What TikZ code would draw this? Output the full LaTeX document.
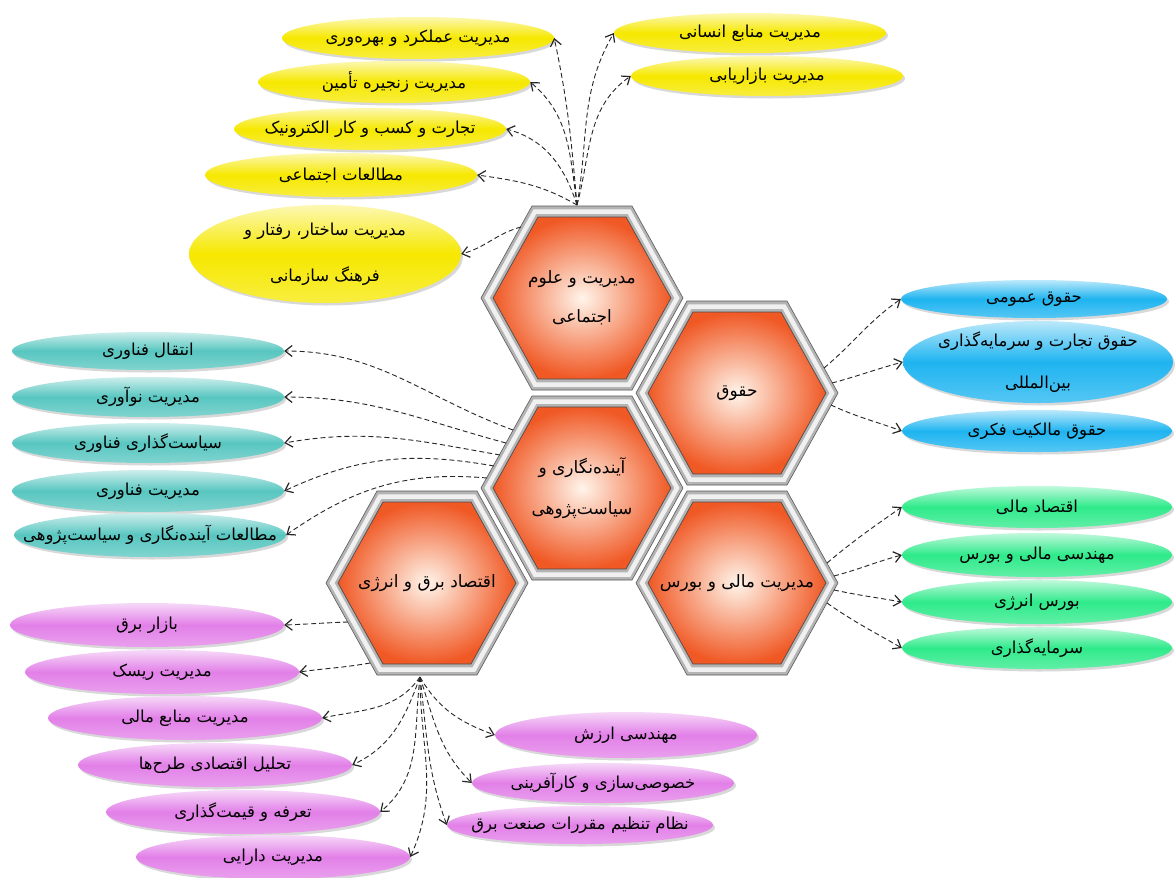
\documentclass[tikz,border=0pt]{standalone}
\usepackage{fontspec}
\usetikzlibrary{shapes.geometric,shadows,arrows.meta,calc}
\TeXXeTstate=1
\newfontfamily\farsi[Script=Arabic]{DejaVu Sans}
\newcommand{\fatxt}[1]{\beginR #1\endR}

\definecolor{leafyellow}{RGB}{246,232,0}
\definecolor{leafteal}{RGB}{88,198,192}
\definecolor{leafblue}{RGB}{30,180,240}
\definecolor{leafgreen}{RGB}{46,234,138}
\definecolor{leafpink}{RGB}{226,128,232}
\definecolor{hexorange}{RGB}{240,88,36}
\definecolor{framegray}{RGB}{180,180,180}

\tikzset{
    cell/.pic={
        \fill[framegray, draw=gray!70!black, line width=.6pt] (-101,0) -- (-50,92) -- (50,92) -- (101,0) -- (50,-92) -- (-50,-92) -- cycle;
        \draw[white!94!gray, line width=4.5pt, opacity=.9] (-95,0) -- (-47,86.5) -- (47,86.5) -- (95,0) -- (47,-86.5) -- (-47,-86.5) -- cycle;
        \shade[inner color=orange!8!white, outer color=hexorange, draw=gray!60!black, line width=.7pt] (-89,0) -- (-44,81) -- (44,81) -- (89,0) -- (44,-81) -- (-44,-81) -- cycle;
    },
    celltext/.style={align=center, font=\farsi\fontsize{17}{20}\selectfont},
    leaf/.style={ellipse, inner xsep=-45pt, inner ysep=-10pt, minimum width=272pt, minimum height=42pt, align=center,
        font=\farsi\fontsize{16.5}{20}\selectfont,
        drop shadow={opacity=.3, shadow xshift=2pt, shadow yshift=-2.5pt}},
    yellowleaf/.style={leaf, top color=leafyellow!30!white, bottom color=leafyellow!75!white, middle color=leafyellow},
    tealleaf/.style={leaf, top color=leafteal!30!white, bottom color=leafteal!75!white, middle color=leafteal},
    blueleaf/.style={leaf, top color=leafblue!30!white, bottom color=leafblue!75!white, middle color=leafblue},
    greenleaf/.style={leaf, top color=leafgreen!30!white, bottom color=leafgreen!75!white, middle color=leafgreen},
    pinkleaf/.style={leaf, top color=leafpink!30!white, bottom color=leafpink!75!white, middle color=leafpink},
    link/.style={draw=black!85, line width=.9pt, dash pattern=on 5pt off 3pt, -{Straight Barb[length=7pt,width=11pt,line width=1.2pt]}}
}

\begin{document}
\begin{tikzpicture}[x=1pt, y=1pt]
    \useasboundingbox (0,0) rectangle (1176,-878);
    \fill[white] (0,0) rectangle (1176,-878);

    \pic at (582,-298) {cell};
    \pic at (737,-393) {cell};
    \pic at (582,-488) {cell};
    \pic at (427,-583) {cell};
    \pic at (737,-583) {cell};

    \node[celltext] (mgmt) at (582,-298) {\fatxt{مدیریت و علوم}\\[19pt]\fatxt{اجتماعی}};
    \node[celltext] (law) at (737,-393) {\fatxt{حقوق}};
    \node[celltext] (foresight) at (582,-488) {\fatxt{آینده^^^^200cنگاری و}\\[21pt]\fatxt{سیاست^^^^200cپژوهی}};
    \node[celltext] (energy) at (427,-583) {\fatxt{اقتصاد برق و انرژی}};
    \node[celltext] (finance) at (737,-583) {\fatxt{مدیریت مالی و بورس}};

    \node[yellowleaf] (perf) at (418,-38) {\fatxt{مدیریت عملکرد و بهره^^^^200cوری}};
    \node[yellowleaf] (supply) at (394,-82) {\fatxt{مدیریت زنجیره تأمین}};
    \node[yellowleaf] (ecom) at (370,-129) {\fatxt{تجارت و کسب و کار الکترونیک}};
    \node[yellowleaf, minimum height=44pt] (social) at (341,-175) {\fatxt{مطالعات اجتماعی}};
    \node[yellowleaf, minimum height=98pt] (orgbeh) at (325,-254) {\fatxt{مدیریت ساختار، رفتار و}\\[26pt]\fatxt{فرهنگ سازمانی}};
    \node[yellowleaf, minimum height=40pt] (hrm) at (750,-33) {\fatxt{مدیریت منابع انسانی}};
    \node[yellowleaf, minimum height=40pt] (mkt) at (767,-76) {\fatxt{مدیریت بازاریابی}};

    \node[tealleaf, minimum height=38pt] (transfer) at (148,-351) {\fatxt{انتقال فناوری}};
    \node[tealleaf, minimum height=40pt] (innov) at (148,-397) {\fatxt{مدیریت نوآوری}};
    \node[tealleaf, minimum height=40pt] (techpol) at (148,-443) {\fatxt{سیاست^^^^200cگذاری فناوری}};
    \node[tealleaf] (techmgmt) at (148,-491) {\fatxt{مدیریت فناوری}};
    \node[tealleaf, minimum height=44pt] (futures) at (150,-535) {\fatxt{مطالعات آینده^^^^200cنگاری و سیاست^^^^200cپژوهی}};

    \node[blueleaf, minimum width=266pt, minimum height=38pt] (publaw) at (1034,-299) {\fatxt{حقوق عمومی}};
    \node[blueleaf, minimum width=270pt, minimum height=82pt] (tradelaw) at (1038,-362) {\fatxt{حقوق تجارت و سرمایه^^^^200cگذاری}\\[22pt]\fatxt{بین^^^^200cالمللی}};
    \node[blueleaf, minimum width=270pt] (iplaw) at (1037,-431) {\fatxt{حقوق مالکیت فکری}};

    \node[greenleaf, minimum width=270pt] (fecon) at (1037,-507) {\fatxt{اقتصاد مالی}};
    \node[greenleaf, minimum width=270pt, minimum height=44pt] (feng) at (1037,-555) {\fatxt{مهندسی مالی و بورس}};
    \node[greenleaf, minimum width=270pt, minimum height=44pt] (enex) at (1037,-602) {\fatxt{بورس انرژی}};
    \node[greenleaf, minimum width=270pt] (invest) at (1037,-648) {\fatxt{سرمایه^^^^200cگذاری}};

    \node[pinkleaf, minimum width=274pt, minimum height=44pt] (elmkt) at (147,-625) {\fatxt{بازار برق}};
    \node[pinkleaf, minimum width=274pt, minimum height=44pt] (risk) at (162,-672) {\fatxt{مدیریت ریسک}};
    \node[pinkleaf, minimum width=274pt, minimum height=44pt] (fundmgmt) at (185,-718) {\fatxt{مدیریت منابع مالی}};
    \node[pinkleaf, minimum width=274pt, minimum height=44pt] (projecon) at (215,-765) {\fatxt{تحلیل اقتصادی طرح^^^^200cها}};
    \node[pinkleaf, minimum width=274pt, minimum height=44pt] (tariff) at (243,-812) {\fatxt{تعرفه و قیمت^^^^200cگذاری}};
    \node[pinkleaf, minimum width=274pt, minimum height=44pt] (asset) at (273,-857) {\fatxt{مدیریت دارایی}};
    \node[pinkleaf, minimum width=262pt, minimum height=46pt] (valeng) at (626,-735) {\fatxt{مهندسی ارزش}};
    \node[pinkleaf, minimum width=262pt, minimum height=40pt] (privat) at (603,-783) {\fatxt{خصوصی^^^^200cسازی و کارآفرینی}};
    \node[pinkleaf, minimum width=266pt, minimum height=38pt] (regul) at (580,-825) {\fatxt{نظام تنظیم مقررات صنعت برق}};

    \coordinate (mgmtfan) at ($(mgmt)+(-5,93)$);
    \draw[link] (mgmtfan) to[out=95,in=-78] (perf.east);
    \draw[link] (mgmtfan) to[out=98,in=-40] (supply.east);
    \draw[link] (mgmtfan) to[out=108,in=-15] (ecom.east);
    \draw[link] (mgmtfan) to[out=150,in=-8] (social.east);
    \draw[link] ($(mgmt)+(-61,71)$) to[out=195,in=15] (orgbeh.east);
    \draw[link] (mgmtfan) to[out=80,in=-120] (hrm.west);
    \draw[link] (mgmtfan) to[out=75,in=-145] (mkt.west);

    \draw[link] ($(foresight)+(-69,58)$) to[out=160,in=0] (transfer.east);
    \draw[link] ($(foresight)+(-76,45)$) to[out=165,in=0] (innov.east);
    \draw[link] ($(foresight)+(-82,33)$) to[out=170,in=10] (techpol.east);
    \draw[link] ($(foresight)+(-88,22)$) to[out=170,in=25] (techmgmt.east);
    \draw[link] ($(foresight)+(-95,10)$) to[out=175,in=35] (futures.east);

    \draw[link] ($(law)+(87,25)$) to[out=40,in=-145] (publaw.west);
    \draw[link] ($(law)+(95,10)$) to[out=15,in=195] (tradelaw.west);
    \draw[link] ($(law)+(94,-12)$) to[out=-25,in=160] (iplaw.west);

    \draw[link] ($(finance)+(90,20)$) to[out=40,in=-145] (fecon.west);
    \draw[link] ($(finance)+(97,7)$) to[out=15,in=195] (feng.west);
    \draw[link] ($(finance)+(97,-7)$) to[out=-12,in=170] (enex.west);
    \draw[link] ($(finance)+(90,-20)$) to[out=-35,in=150] (invest.west);

    \coordinate (energyfan) at ($(energy)+(-7,-94)$);
    \draw[link] ($(energy)+(-79,-39)$) to[out=182,in=2] (elmkt.east);
    \draw[link] ($(energy)+(-57,-80)$) to[out=190,in=8] (risk.east);
    \draw[link] (energyfan) to[out=-125,in=12] (fundmgmt.east);
    \draw[link] (energyfan) to[out=-110,in=25] (projecon.east);
    \draw[link] (energyfan) to[out=-97,in=40] (tariff.east);
    \draw[link] (energyfan) to[out=-90,in=65] (asset.east);
    \draw[link] (energyfan) to[out=-60,in=160] (valeng.west);
    \draw[link] (energyfan) to[out=-72,in=135] (privat.west);
    \draw[link] (energyfan) to[out=-83,in=110] (regul.west);
\end{tikzpicture}
\end{document}
